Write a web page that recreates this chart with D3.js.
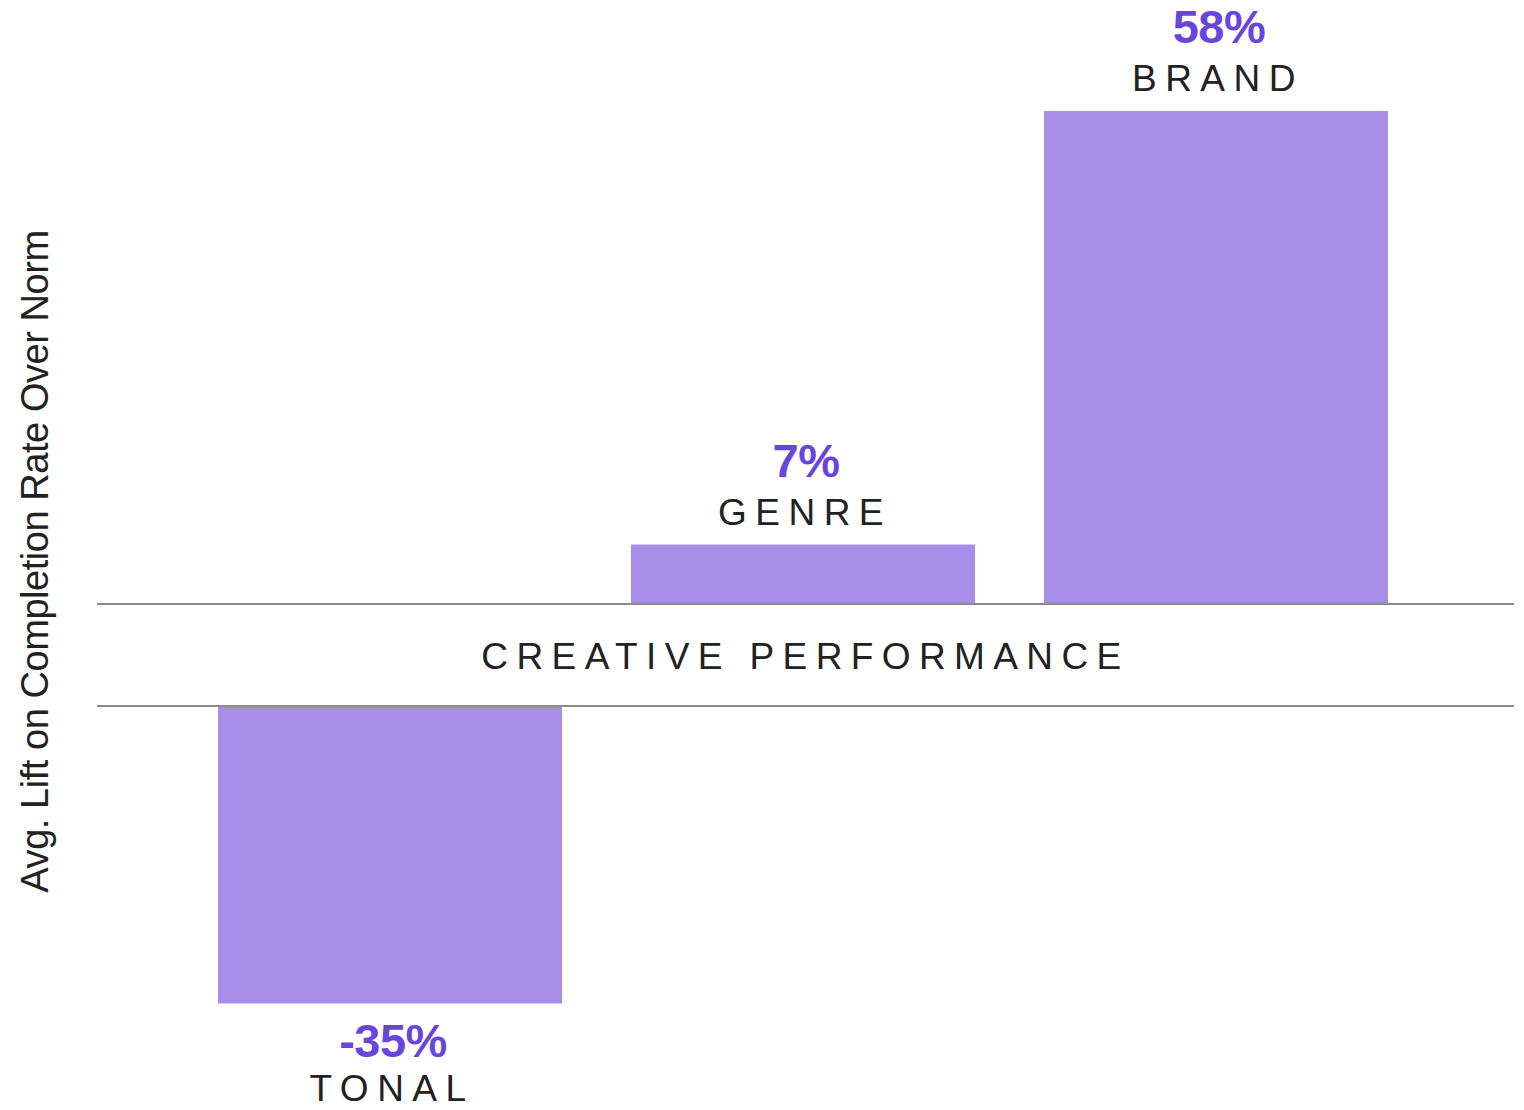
<!DOCTYPE html>
<html>
<head>
<meta charset="utf-8">
<script src="https://cdn.jsdelivr.net/npm/d3@7"></script>
<style>
  html, body { margin: 0; padding: 0; background: #ffffff; }
  svg { display: block; }
  text { font-family: "Liberation Sans", Arial, Helvetica, sans-serif; }
</style>
</head>
<body>
<div id="chart"></div>
<script>
// Creative performance: average lift on completion rate over norm
const categories = ["TONAL", "GENRE", "BRAND"];
const values = [-35, 7, 58];
const valueLabels = ["-35%", "7%", "58%"];
const axisTitle = "Avg. Lift on Completion Rate Over Norm";
const bandTitle = "CREATIVE PERFORMANCE";

const width = 1524, height = 1110;
const barColor = "#a68de8";
const valueColor = "#6a45dc";
const textColor = "#222222";
const ruleColor = "#8a8a8a";

const svg = d3.select("#chart").append("svg")
  .attr("width", width)
  .attr("height", height);

// Two baselines: positive bars rise from the upper rule, negative bars hang from the lower one
const upperBase = 604;
const lowerBase = 706;
const ruleLeft = 97, ruleRight = 1514;

const x = d3.scaleBand()
  .domain(categories)
  .range([218, 1388])
  .paddingInner(0.167)
  .paddingOuter(0);

// bar length in pixels per percentage point
const len = d3.scaleLinear().domain([0, 60]).range([0, 510]);

const data = categories.map((c, i) => ({ cat: c, value: values[i], label: valueLabels[i] }));

// Bars
svg.append("g").selectAll("rect")
  .data(data)
  .join("rect")
  .attr("x", d => x(d.cat))
  .attr("width", x.bandwidth())
  .attr("y", d => d.value >= 0 ? upperBase - len(d.value) : lowerBase)
  .attr("height", d => len(Math.abs(d.value)))
  .attr("fill", barColor);

// Rules bounding the band title
svg.append("g").selectAll("line")
  .data([upperBase, lowerBase])
  .join("line")
  .attr("x1", ruleLeft)
  .attr("x2", ruleRight)
  .attr("y1", d => d)
  .attr("y2", d => d)
  .attr("stroke", ruleColor)
  .attr("stroke-width", 2.2);

// Band title between the rules
svg.append("text")
  .attr("x", (ruleLeft + ruleRight) / 2)
  .attr("y", 669)
  .attr("text-anchor", "middle")
  .attr("font-size", 37)
  .attr("letter-spacing", 8.4)
  .attr("fill", textColor)
  .text(bandTitle);

// Value and category labels, placed beyond each bar's end
const labels = svg.append("g").selectAll("g")
  .data(data)
  .join("g")
  .attr("transform", d => {
    const cx = x(d.cat) + x.bandwidth() / 2;
    const end = d.value >= 0 ? upperBase - len(d.value) : lowerBase + len(-d.value);
    return `translate(${cx},${end})`;
  });

labels.append("text")
  .attr("text-anchor", "middle")
  .attr("x", 3)
  .attr("y", d => d.value >= 0 ? -68 : 53)
  .attr("font-size", 47)
  .attr("font-weight", "bold")
  .attr("letter-spacing", -0.5)
  .attr("fill", valueColor)
  .text(d => d.label);

labels.append("text")
  .attr("text-anchor", "middle")
  .attr("x", 2)
  .attr("y", d => d.value >= 0 ? -20 : 97)
  .attr("font-size", 37)
  .attr("letter-spacing", 8.5)
  .attr("fill", textColor)
  .text(d => d.cat);

// Vertical axis title
svg.append("text")
  .attr("transform", "translate(48,561.5) rotate(-90)")
  .attr("text-anchor", "middle")
  .attr("font-size", 38)
  .attr("letter-spacing", -0.45)
  .attr("fill", textColor)
  .text(axisTitle);
</script>
</body>
</html>
